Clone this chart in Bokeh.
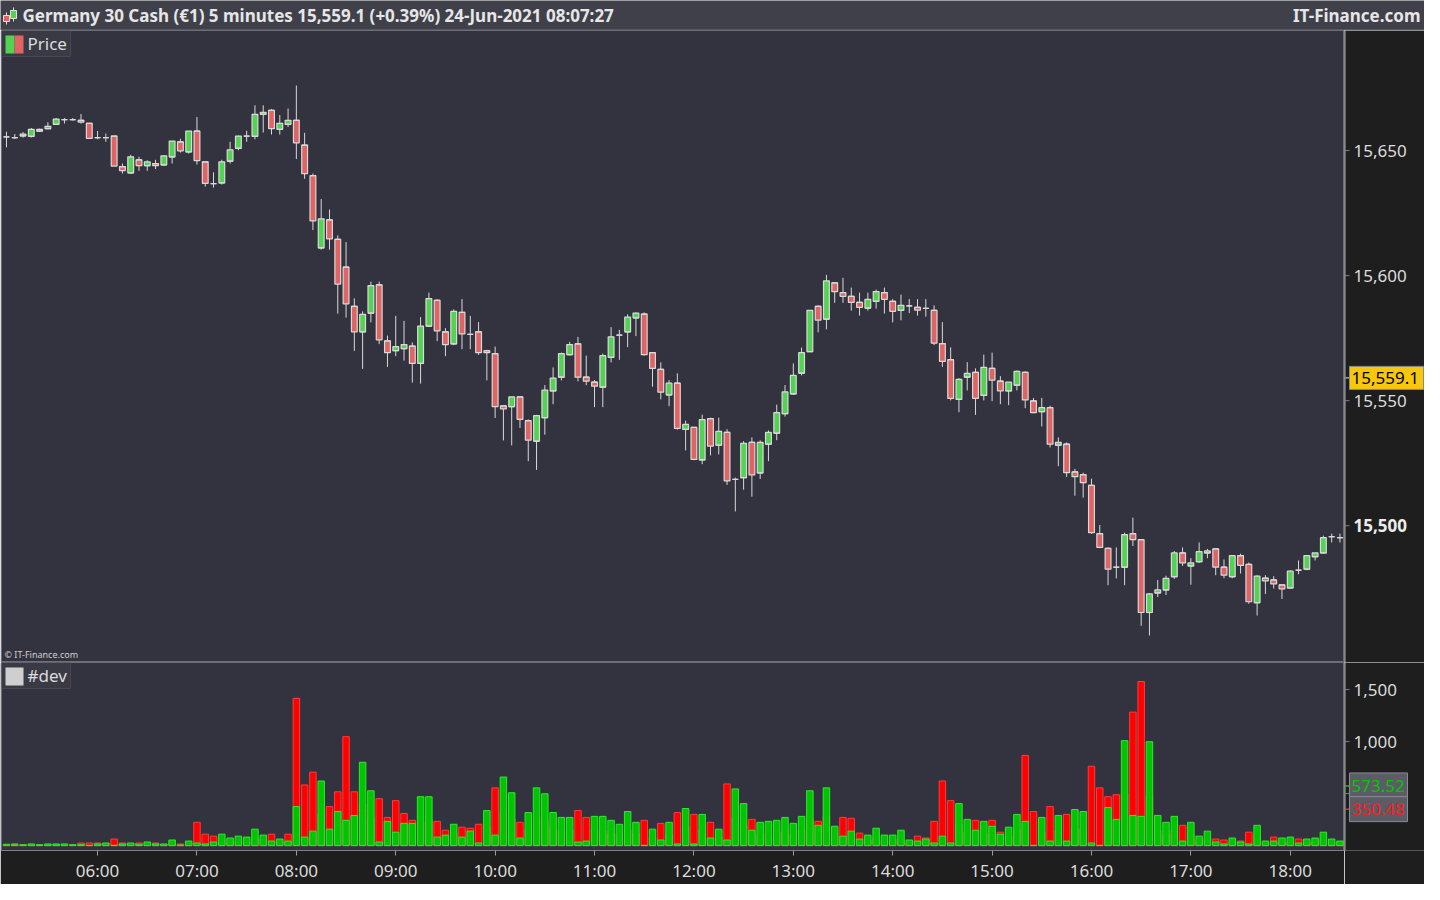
from bokeh.plotting import figure
from bokeh.layouts import column, row
from bokeh.models import (Range1d, FixedTicker, Label, BoxAnnotation, ColumnDataSource, Span)
from bokeh.core.properties import value
from bokeh.embed import file_html
from bokeh.resources import INLINE

# ---------------- data ----------------
TITLE = "Germany 30 Cash (\u20ac1) 5 minutes 15,559.1 (+0.39%) 24-Jun-2021 08:07:27"
BRAND = "IT-Finance.com"
COPYRIGHT = "\u00a9 IT-Finance.com"
PRICE_NAME = "Price"
IND_NAME = "#dev"
LAST_PRICE = 15559.1
IND_GREEN_LAST = 573.52
IND_RED_LAST = 350.48
first_bar = "05:05"
bar_minutes = 5
price_ticks = [15500, 15550, 15600, 15650]
price_bold_ticks = [15500]
vol_ticks = [500, 1000, 1500]
vol_labelled_ticks = [1000, 1500]
time_labels = ["06:00", "07:00", "08:00", "09:00", "10:00", "11:00", "12:00",
               "13:00", "14:00", "15:00", "16:00", "17:00", "18:00"]

opens = [15655.5, 15655.2, 15655.9, 15655.7, 15657.8, 15658.8, 15660.5, 15662.4, 15662.4, 15662.1,
         15660.9, 15655.2, 15655.2, 15655.8, 15643.6, 15641.1, 15646.3, 15644.0, 15644.8, 15644.3,
         15647.5, 15653.5, 15649.5, 15657.8, 15645.5, 15636.8, 15637.1, 15645.8, 15650.9, 15655.8,
         15655.7, 15664.5, 15666.1, 15658.5, 15660.5, 15662.1, 15652.2, 15640.0, 15611.1, 15622.3,
         15614.5, 15603.4, 15587.7, 15577.5, 15585.0, 15596.3, 15573.9, 15570.0, 15570.8, 15571.8,
         15564.9, 15579.8, 15590.1, 15577.5, 15572.7, 15585.3, 15576.5, 15577.5, 15570.0, 15568.8,
         15547.9, 15547.6, 15551.5, 15542.0, 15533.8, 15543.2, 15553.9, 15559.4, 15568.4, 15572.7,
         15559.4, 15557.4, 15555.4, 15567.3, 15576.2, 15577.5, 15583.1, 15584.6, 15569.2, 15562.5,
         15552.3, 15557.0, 15538.5, 15539.3, 15526.3, 15542.8, 15532.2, 15537.3, 15518.5, 15519.2,
         15533.3, 15521.1, 15532.6, 15537.0, 15544.8, 15552.7, 15561.0, 15569.6, 15587.7, 15582.6,
         15597.1, 15593.2, 15591.7, 15589.3, 15587.0, 15589.7, 15593.2, 15589.7, 15586.1, 15587.9,
         15587.3, 15586.9, 15586.1, 15572.8, 15566.4, 15550.5, 15559.4, 15561.3, 15552.1, 15562.9,
         15557.8, 15553.9, 15556.2, 15561.3, 15549.9, 15545.6, 15547.2, 15532.2, 15532.6, 15521.5,
         15520.4, 15516.1, 15496.8, 15490.9, 15483.4, 15483.4, 15496.8, 15494.4, 15465.3, 15473.1,
         15474.3, 15479.6, 15489.1, 15483.9, 15485.6, 15489.1, 15490.7, 15483.4, 15479.6, 15488.0,
         15484.5, 15469.2, 15479.0, 15478.3, 15476.3, 15475.1, 15482.2, 15482.6, 15487.6, 15489.1,
         15495.6, 15495.2]
highs = [15657.5, 15656.6, 15657.4, 15659.0, 15658.8, 15661.3, 15663.0, 15663.0, 15663.0, 15664.6,
         15660.9, 15657.8, 15656.8, 15655.8, 15644.8, 15648.3, 15647.5, 15646.1, 15646.3, 15648.1,
         15653.8, 15654.7, 15657.8, 15663.4, 15645.5, 15641.3, 15646.3, 15653.5, 15656.0, 15657.9,
         15668.1, 15668.1, 15666.5, 15664.2, 15666.8, 15676.0, 15657.1, 15640.8, 15630.6, 15626.4,
         15616.1, 15613.4, 15590.9, 15585.7, 15597.6, 15597.6, 15576.0, 15583.9, 15581.9, 15573.3,
         15583.4, 15593.2, 15590.5, 15579.0, 15586.5, 15590.6, 15583.9, 15581.4, 15570.3, 15571.6,
         15547.9, 15551.5, 15551.5, 15542.5, 15544.3, 15556.2, 15563.3, 15569.2, 15573.5, 15575.5,
         15568.0, 15558.2, 15568.8, 15579.4, 15578.3, 15584.5, 15585.3, 15585.3, 15569.2, 15565.3,
         15558.2, 15560.9, 15542.0, 15539.3, 15544.4, 15543.2, 15543.2, 15538.6, 15519.2, 15533.8,
         15535.3, 15534.1, 15538.1, 15548.4, 15556.2, 15564.9, 15571.2, 15586.1, 15588.1, 15600.3,
         15597.1, 15599.1, 15595.2, 15593.2, 15593.2, 15594.4, 15595.2, 15590.6, 15592.4, 15590.6,
         15590.6, 15590.6, 15588.1, 15581.4, 15571.3, 15559.0, 15565.4, 15562.9, 15568.4, 15569.2,
         15559.8, 15557.4, 15562.1, 15561.7, 15551.1, 15551.1, 15548.0, 15535.3, 15533.3, 15522.7,
         15521.2, 15518.8, 15500.3, 15491.3, 15491.3, 15497.2, 15503.2, 15494.4, 15473.1, 15478.3,
         15480.0, 15489.9, 15491.3, 15487.0, 15493.3, 15490.7, 15490.7, 15486.5, 15488.0, 15488.8,
         15485.3, 15480.2, 15480.2, 15479.8, 15476.3, 15482.2, 15486.1, 15488.0, 15489.1, 15496.0,
         15496.8, 15496.8]
lows = [15651.3, 15654.6, 15655.2, 15655.2, 15657.5, 15658.8, 15660.5, 15660.8, 15662.0, 15660.8,
        15654.9, 15654.5, 15653.5, 15643.8, 15640.8, 15640.7, 15641.9, 15641.9, 15642.6, 15643.8,
        15644.8, 15649.2, 15648.8, 15644.4, 15635.6, 15635.2, 15636.4, 15644.8, 15650.1, 15653.5,
        15654.5, 15657.2, 15656.4, 15656.4, 15659.4, 15646.6, 15638.7, 15618.2, 15610.4, 15610.4,
        15584.8, 15583.2, 15569.9, 15562.7, 15581.3, 15572.6, 15563.5, 15567.8, 15566.0, 15557.2,
        15556.8, 15579.5, 15573.8, 15567.8, 15572.2, 15570.6, 15570.6, 15568.3, 15558.1, 15543.1,
        15534.1, 15532.1, 15539.1, 15525.8, 15522.3, 15536.4, 15548.6, 15558.1, 15568.0, 15557.7,
        15556.2, 15547.4, 15547.4, 15565.3, 15566.3, 15571.4, 15575.8, 15568.0, 15555.6, 15550.5,
        15547.8, 15538.4, 15530.1, 15526.2, 15524.6, 15528.1, 15528.5, 15516.3, 15505.7, 15514.4,
        15511.6, 15518.7, 15525.8, 15534.2, 15543.6, 15552.3, 15560.1, 15569.6, 15577.3, 15578.5,
        15589.1, 15589.1, 15586.0, 15584.0, 15586.0, 15586.8, 15584.8, 15581.3, 15582.1, 15585.0,
        15584.0, 15583.6, 15572.2, 15563.5, 15550.1, 15545.4, 15554.1, 15544.3, 15550.1, 15549.8,
        15548.6, 15548.2, 15554.1, 15547.0, 15545.0, 15539.7, 15531.3, 15523.8, 15519.5, 15512.0,
        15511.2, 15496.8, 15491.0, 15476.2, 15478.9, 15476.2, 15491.9, 15460.0, 15456.1, 15471.5,
        15472.3, 15478.7, 15483.9, 15476.4, 15485.1, 15487.0, 15480.2, 15479.0, 15479.0, 15480.9,
        15468.8, 15464.1, 15472.7, 15474.9, 15470.7, 15475.0, 15480.6, 15482.2, 15486.1, 15489.1,
        15493.3, 15493.3]
closes = [15655.5, 15655.2, 15656.6, 15658.5, 15658.5, 15659.7, 15662.6, 15662.4, 15662.4, 15661.4,
          15654.9, 15655.2, 15655.2, 15643.8, 15642.0, 15647.5, 15644.0, 15645.5, 15644.0, 15647.9,
          15653.8, 15649.9, 15657.8, 15646.0, 15636.9, 15636.8, 15645.5, 15650.3, 15655.8, 15655.8,
          15664.5, 15665.3, 15658.8, 15660.9, 15662.1, 15653.1, 15640.8, 15621.9, 15622.7, 15614.7,
          15596.6, 15588.7, 15577.5, 15584.5, 15596.0, 15574.3, 15569.2, 15571.6, 15572.4, 15564.9,
          15579.8, 15590.8, 15577.9, 15572.4, 15585.7, 15576.7, 15576.5, 15569.2, 15569.2, 15547.6,
          15546.7, 15551.5, 15542.5, 15534.2, 15544.0, 15554.2, 15559.0, 15568.8, 15572.4, 15559.4,
          15557.8, 15555.8, 15568.0, 15575.5, 15576.2, 15583.4, 15585.0, 15568.4, 15562.9, 15553.4,
          15557.0, 15538.9, 15540.5, 15526.5, 15542.4, 15531.8, 15537.7, 15517.9, 15518.5, 15532.9,
          15520.3, 15533.3, 15537.3, 15545.2, 15553.5, 15560.1, 15569.2, 15586.1, 15582.2, 15597.9,
          15593.6, 15591.7, 15589.3, 15587.3, 15590.5, 15593.6, 15590.5, 15585.7, 15588.1, 15587.9,
          15586.2, 15586.9, 15573.0, 15565.7, 15550.9, 15558.5, 15560.9, 15550.9, 15563.3, 15558.2,
          15553.9, 15557.4, 15561.7, 15550.3, 15545.2, 15547.2, 15532.6, 15533.3, 15521.2, 15519.6,
          15517.2, 15497.2, 15491.3, 15482.6, 15483.4, 15496.4, 15494.4, 15465.3, 15472.7, 15474.3,
          15478.9, 15489.1, 15485.1, 15485.1, 15489.6, 15489.9, 15483.4, 15480.2, 15488.0, 15484.1,
          15469.6, 15479.8, 15477.9, 15476.7, 15474.7, 15481.8, 15482.2, 15488.0, 15489.1, 15495.2,
          15495.6, 15495.2]

dev_green = [13, 9, 9, 16, 9, 16, 16, 16, 9, 9, 3, 16, 25, 3, 16, 25, 13, 35, 16, 16,
             54, 6, 44, 25, 16, 35, 110, 73, 91, 82, 158, 101, 44, 63, 44, 375, 82, 139, 621, 158,
             328, 243, 290, 801, 527, 35, 233, 129, 214, 214, 470, 470, 82, 101, 205, 82, 139, 25, 337, 101,
             659, 508, 73, 318, 555, 498, 318, 271, 271, 35, 44, 281, 281, 243, 205, 328, 224, 3, 158, 54,
             224, 16, 356, 16, 300, 73, 158, 54, 545, 404, 148, 224, 233, 243, 271, 214, 281, 527, 195, 555,
             186, 91, 139, 63, 101, 167, 101, 101, 148, 54, 44, 63, 25, 91, 25, 404, 252, 148, 233, 186,
             110, 177, 300, 233, 3, 271, 44, 290, 44, 347, 328, 25, 3, 366, 252, 1009, 290, 281, 999, 290,
             224, 281, 44, 224, 91, 139, 35, 16, 73, 35, 16, 195, 44, 44, 73, 82, 25, 63, 73, 129,
             63, 44]
dev_red = [6, 19, 5, 8, 4, 10, 7, 9, 5, 25, 25, 25, 12, 63, 25, 14, 25, 20, 25, 10,
           30, 16, 22, 224, 110, 91, 60, 40, 50, 45, 80, 60, 110, 40, 110, 1416, 583, 706, 300, 375,
           517, 1047, 517, 400, 260, 451, 271, 432, 309, 243, 230, 250, 233, 148, 120, 177, 167, 205, 180, 555,
           320, 260, 224, 160, 280, 240, 170, 140, 150, 337, 271, 150, 140, 120, 110, 160, 120, 243, 80, 214,
           110, 318, 180, 300, 150, 224, 80, 593, 270, 200, 252, 110, 120, 130, 140, 100, 150, 260, 233, 280,
           90, 271, 262, 120, 50, 80, 50, 60, 70, 30, 91, 73, 233, 621, 432, 200, 130, 243, 120, 243,
           129, 90, 150, 867, 328, 130, 375, 140, 300, 170, 160, 763, 555, 470, 489, 500, 1283, 1577, 480, 140,
           110, 140, 195, 110, 45, 70, 63, 54, 35, 44, 129, 100, 20, 82, 35, 40, 63, 30, 35, 60,
           30, 20]

# ---------------- styling ----------------
W = 1424
HEAD_H = 30
PRICE_H = 632
VOL_FRAME_H = 188
XAXIS_H = 34
AXIS_W = 80
PLOT_W = W - AXIS_W
PANEL_BG = "#33333f"
DARK_BG = "#1e1e1e"
FRAME_LINE = "#6e6e78"
AXIS_LINE = "#7e7e86"
TEXT_C = "#dcdcdc"
FONT = "Noto Sans"
UP_C = "#52d452"
DOWN_C = "#e06464"
EDGE_C = "#d9d9d9"

n = len(opens)
h0, m0 = [int(s) for s in first_bar.split(":")]
times = []
for i in range(n):
    t = h0 * 60 + m0 + bar_minutes * i
    times.append("%02d:%02d" % (t // 60, t % 60))
tick_idx = [times.index(t) for t in time_labels]

idx = list(range(n))
tops = [max(o, c) for o, c in zip(opens, closes)]
bots = [min(o, c) for o, c in zip(opens, closes)]
cols = [UP_C if c > o else (DOWN_C if c < o else EDGE_C) for o, c in zip(opens, closes)]
BODY_W = 0.7
src = ColumnDataSource(dict(x=idx, o=opens, h=highs, l=lows, c=closes, top=tops, bot=bots,
                            col=cols, xl=[i - BODY_W / 2 for i in idx], xr=[i + BODY_W / 2 for i in idx],
                            vg=dev_green, vr=dev_red))

x_range = Range1d(-0.6, n - 0.45)
price_range = Range1d(15445.3, 15698.0)
vol_range = Range1d(-47, 1760)


def txt(fig, xs, ys, labels, color=TEXT_C, size="17px", style="normal", align="left"):
    fig.text(x=xs, y=ys, text=labels, text_font=value(FONT), text_font_size=size,
             text_font_style=style, text_color=color, text_baseline="middle", text_align=align)


def axis_panel(height, yr, bottom=0):
    f = figure(width=AXIS_W, height=height, x_range=Range1d(0, AXIS_W), y_range=yr,
               x_axis_location=None, y_axis_location=None, toolbar_location=None,
               output_backend="svg", min_border=0, min_border_bottom=bottom,
               background_fill_color=DARK_BG, border_fill_color=DARK_BG, outline_line_color=None)
    f.grid.visible = False
    f.add_layout(Span(location=0.5, dimension="height", line_color=AXIS_LINE, line_width=1.5))
    return f


# ---------------- header ----------------
head = figure(width=W, height=HEAD_H, x_range=(0, W), y_range=(0, HEAD_H),
              x_axis_location=None, y_axis_location=None, toolbar_location=None,
              output_backend="svg", min_border=0, outline_line_color=None,
              background_fill_color="#40404a", border_fill_color="#40404a")
head.grid.visible = False
head.segment(x0=[6, 13], y0=[6, 9], x1=[6, 13], y1=[18, 23], color="#e0e0e0", line_width=1)
head.quad(left=[3, 10], right=[9, 16], bottom=[9, 12], top=[15, 20],
          fill_color=[DOWN_C, UP_C], line_color="#e0e0e0", line_width=1)
txt(head, [22], [HEAD_H / 2], [TITLE], color="#e6e6e6", style="bold", size="17px")
txt(head, [W - 4], [HEAD_H / 2], [BRAND], color="#e6e6e6", style="bold", size="17px", align="right")
head.add_layout(Span(location=0.5, dimension="width", line_color="#70707a", line_width=1))

# ---------------- price panel ----------------
p = figure(width=PLOT_W, height=PRICE_H, x_range=x_range, y_range=price_range,
           x_axis_location=None, y_axis_location=None, toolbar_location=None,
           output_backend="svg", min_border_left=1, min_border_right=0,
           min_border_top=0, min_border_bottom=0,
           background_fill_color=PANEL_BG, border_fill_color=FRAME_LINE,
           outline_line_color=FRAME_LINE)
p.grid.visible = False
p.segment(x0="x", y0="l", x1="x", y1="h", source=src, color=EDGE_C, line_width=1)
p.vbar(x="x", width=BODY_W, top="top", bottom="bot", source=src, fill_color="col",
       line_color=EDGE_C, line_width=1.2)
p.segment(x0="xl", y0="o", x1="xr", y1="o", source=src, color=EDGE_C, line_width=1.2)

box_kw = dict(left_units="screen", right_units="screen", top_units="screen",
              bottom_units="screen", fill_alpha=1)
p.add_layout(BoxAnnotation(left=0, right=69, top=PRICE_H, bottom=PRICE_H - 26,
                           fill_color="#3a3a45", line_color="#74747e", line_width=1, **box_kw))
p.add_layout(BoxAnnotation(left=4, right=13, top=PRICE_H - 5, bottom=PRICE_H - 23,
                           fill_color=UP_C, line_color=None, **box_kw))
p.add_layout(BoxAnnotation(left=13, right=22, top=PRICE_H - 5, bottom=PRICE_H - 23,
                           fill_color=DOWN_C, line_color=None, **box_kw))
p.add_layout(Label(x=26, y=PRICE_H - 13, x_units="screen", y_units="screen", text=PRICE_NAME,
                   text_font=FONT, text_font_size="17px", text_color=TEXT_C, text_baseline="middle"))
p.add_layout(Label(x=3, y=2, x_units="screen", y_units="screen", text=COPYRIGHT,
                   text_font=FONT, text_font_size="9px", text_color="#cfcfcf", text_baseline="bottom"))

# price axis panel
pa = axis_panel(PRICE_H, price_range)
pa.segment(x0=0, x1=5, y0=price_ticks, y1=price_ticks, color=AXIS_LINE, line_width=1)
normal = [t for t in price_ticks if t not in price_bold_ticks]
txt(pa, [9] * len(normal), normal, ["{:,}".format(t) for t in normal])
txt(pa, [9] * len(price_bold_ticks), price_bold_ticks, ["{:,}".format(t) for t in price_bold_ticks],
    color="#ececec", style="bold")
pa.segment(x0=[0], x1=[5], y0=[LAST_PRICE], y1=[LAST_PRICE], color="#e8e8e8", line_width=1)
pa.rect(x=[42], y=[LAST_PRICE], width=[74], height=[23], height_units="screen",
        fill_color="#f7c80a", line_color="#8a8a8a", line_width=1)
txt(pa, [7], [LAST_PRICE], ["{:,.1f}".format(LAST_PRICE)], color="#000000")

# ---------------- volume / #dev panel ----------------
v = figure(width=PLOT_W, height=VOL_FRAME_H + XAXIS_H, x_range=x_range, y_range=vol_range,
           x_axis_location="below", y_axis_location=None, toolbar_location=None,
           output_backend="svg", min_border_left=1, min_border_right=0,
           min_border_top=0, min_border_bottom=XAXIS_H,
           background_fill_color=PANEL_BG, border_fill_color=DARK_BG,
           outline_line_color=FRAME_LINE)
v.grid.visible = False
v.vbar(x="x", width=0.78, top="vr", bottom=0, source=src, fill_color="#ff0000",
       line_color="#ff3c3c", line_width=1)
v.vbar(x="x", width=0.78, top="vg", bottom=0, source=src, fill_color="#00c400",
       line_color="#30e830", line_width=1)

xa = v.xaxis[0]
xa.ticker = FixedTicker(ticks=tick_idx)
xa.major_label_overrides = {i: t for i, t in zip(tick_idx, time_labels)}
xa.minor_tick_line_color = None
xa.major_tick_in = 0
xa.major_tick_out = 5
xa.major_tick_line_color = "#9a9a9a"
xa.axis_line_color = AXIS_LINE
xa.major_label_text_color = TEXT_C
xa.major_label_text_font = FONT
xa.major_label_text_font_size = "17px"
xa.major_label_standoff = 3

v.add_layout(BoxAnnotation(left=0, right=69, top=VOL_FRAME_H, bottom=VOL_FRAME_H - 26,
                           fill_color="#3a3a45", line_color="#74747e", line_width=1, **box_kw))
v.add_layout(BoxAnnotation(left=4, right=22, top=VOL_FRAME_H - 5, bottom=VOL_FRAME_H - 23,
                           fill_color="#cfcfcf", line_color=None, **box_kw))
v.add_layout(Label(x=26, y=VOL_FRAME_H - 13, x_units="screen", y_units="screen", text=IND_NAME,
                   text_font=FONT, text_font_size="17px", text_color=TEXT_C, text_baseline="middle"))

# volume axis panel
va = axis_panel(VOL_FRAME_H + XAXIS_H, vol_range, bottom=XAXIS_H)
va.segment(x0=0, x1=5, y0=vol_ticks, y1=vol_ticks, color=AXIS_LINE, line_width=1)
txt(va, [9] * len(vol_labelled_ticks), vol_labelled_ticks, ["{:,}".format(t) for t in vol_labelled_ticks])
va.segment(x0=[0, 0], x1=[5, 5], y0=[IND_GREEN_LAST, IND_RED_LAST], y1=[IND_GREEN_LAST, IND_RED_LAST],
           color=["#00d000", "#ff2020"], line_width=1.5)
va.rect(x=[34, 34], y=[IND_GREEN_LAST, IND_RED_LAST], width=[58, 58], height=[26, 25],
        height_units="screen", fill_color="#5c5c66", line_color="#8a8a92", line_width=1)
txt(va, [7], [IND_GREEN_LAST], ["{:.2f}".format(IND_GREEN_LAST)], color="#00c800")
txt(va, [7], [IND_RED_LAST], ["{:.2f}".format(IND_RED_LAST)], color="#ff1a1a")

layout = column(head, row(p, pa, spacing=0), row(v, va, spacing=0), spacing=0)
open("out.html", "w").write(file_html(layout, INLINE))
